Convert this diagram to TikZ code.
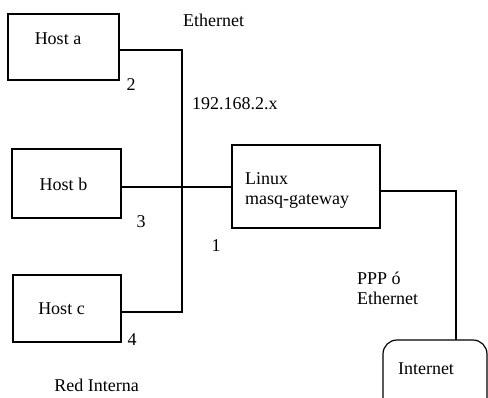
\documentclass[tikz,border=0pt]{standalone}
\usepackage{fontspec}
\setmainfont{Liberation Serif}
\begin{document}
\begin{tikzpicture}[x=1pt,y=-1pt,
  box/.style={draw,line width=1.2pt,inner sep=0pt},
  wire/.style={line width=1.2pt},
  txt/.style={inner sep=0pt,font=\fontsize{18}{21}\selectfont}]
\useasboundingbox (0,0) rectangle (488,397);
% boxes
\node[box,minimum width=111pt,minimum height=66pt] (ha) at (63.5,47) {};
\node[box,minimum width=109pt,minimum height=69pt] (hb) at (66.5,183.5) {};
\node[box,minimum width=108pt,minimum height=67pt] (hc) at (67,308.5) {};
\node[box,minimum width=148pt,minimum height=83pt] (gw) at (306,186.5) {};
\node[box,rounded corners=14pt,minimum width=104pt,minimum height=90pt] (inet) at (435,385) {};
% texts
\node[txt] (tha) at (58,39) {Host a};
\node[txt] (thb) at (63.5,184) {Host b};
\node[txt] (thc) at (61.5,309) {Host c};
\node[txt,anchor=west,align=left] (tgw) at (245,190) {Linux\\[-1pt]masq-gateway};
\node[txt] (tin) at (426,369) {Internet};
\node[txt,anchor=west] (teth) at (183,20) {Ethernet};
\node[txt,anchor=west] (tnet) at (192,104) {192.168.2.x};
\node[txt,anchor=west,align=left] (tppp) at (357,288) {PPP ó\\[-1pt]Ethernet};
\node[txt] (tred) at (96.5,385) {Red Interna};
\node[txt] (n2) at (131,85) {2};
\node[txt] (n3) at (141,222) {3};
\node[txt] (n1) at (216,246) {1};
\node[txt] (n4) at (132,340) {4};
% connectors
\coordinate (busb) at (182,312);
\coordinate (inettop) at (456,340);
\draw[wire] ([yshift=-3pt]ha.east) -| (busb) -- ([yshift=-3.5pt]hc.east);
\draw[wire] ([yshift=-3.5pt]hb.east) -- ([yshift=-3.5pt]hb.east -| gw.west);
\draw[wire] ([yshift=-4.5pt]gw.east) -| (inettop);
\end{tikzpicture}
\end{document}
